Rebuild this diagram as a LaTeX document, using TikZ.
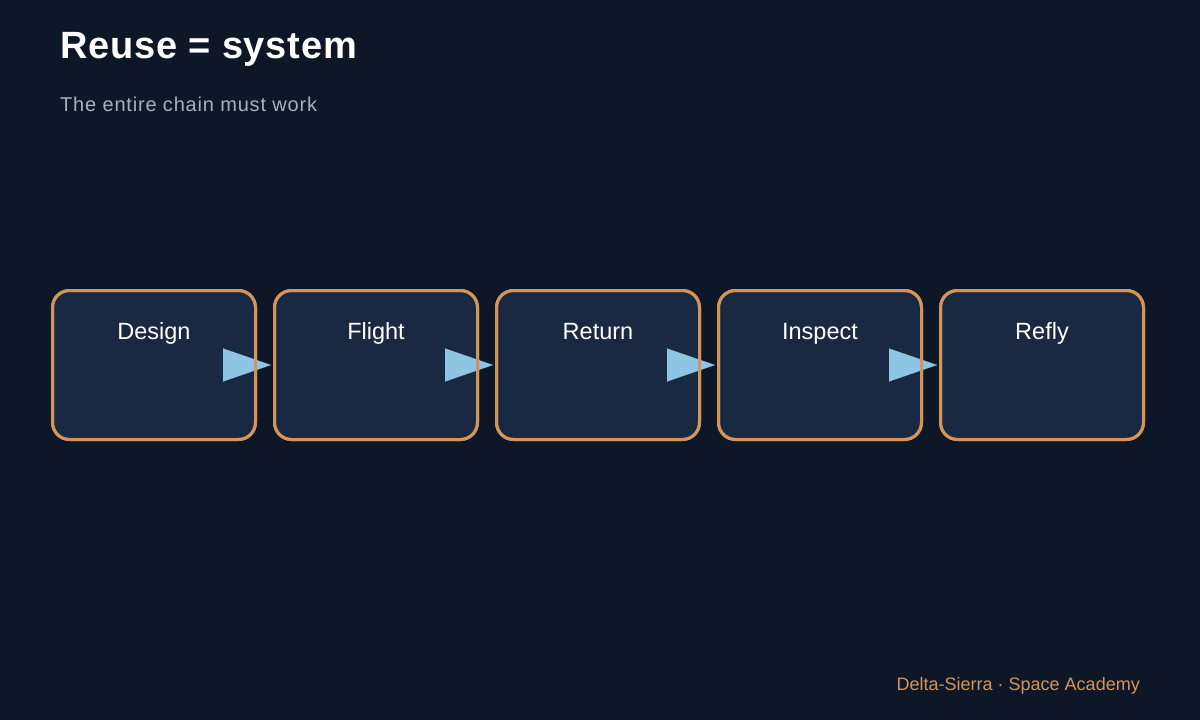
\documentclass[tikz,border=0pt]{standalone}
\usepackage{fontspec}
\setmainfont{Liberation Sans}
\usetikzlibrary{arrows.meta,calc}
\definecolor{bg}{HTML}{0E1727}
\definecolor{boxfill}{HTML}{1A2942}
\definecolor{boxline}{HTML}{D4955A}
\definecolor{arrowc}{HTML}{8EC5E2}
\definecolor{subc}{HTML}{9FB3C8}
\definecolor{footc}{HTML}{D4955A}
\tikzset{
  stage/.style={rectangle, rounded corners=17pt, fill=boxfill, draw=boxline, line width=3pt,
    minimum width=203pt, minimum height=149pt, inner sep=0pt, outer sep=0pt},
  stageborder/.style={draw=boxline, line width=3pt, rounded corners=17pt},
  stagelabel/.style={anchor=base, text=white, font=\fontsize{23.5}{28}\selectfont, inner sep=0pt},
  flow/.style={draw=arrowc, line width=0.1pt, -{Triangle[length=48pt,width=33pt]}, shorten >=3.5pt},
}
\begin{document}
\begin{tikzpicture}[x=1pt,y=-1pt]
\fill[bg] (0,0) rectangle (1200,720);
\useasboundingbox (0,0) rectangle (1200,720);
\node[anchor=base west, inner sep=0pt, text=white, font=\fontsize{38}{44}\selectfont\bfseries\addfontfeature{LetterSpace=2}] (title) at (60,58) {Reuse = system};
\node[anchor=base west, inner sep=0pt, text=subc, font=\fontsize{20}{24}\selectfont\addfontfeature{LetterSpace=4}] (sub) at (60,111.5) {The entire chain must work};
\foreach \i/\t in {1/Design,2/Flight,3/Return,4/Inspect,5/Refly}{
  \node[stage] (b\i) at ({154+222*(\i-1)},365) {};
  \node[stagelabel] (l\i) at ($(b\i.north)+(0,49)$) {\t};
}
\foreach \i/\j in {1/2,2/3,3/4,4/5}{
  \draw[flow] (b\i.east) -- (b\j.west);
}
\foreach \i in {1,...,5}{
  \draw[stageborder] (b\i.south west) rectangle (b\i.north east);
}
\node[anchor=base east, inner sep=0pt, text=footc, font=\fontsize{18}{22}\selectfont] (foot) at (1140,690.5) {Delta-Sierra · Space Academy};
\end{tikzpicture}
\end{document}
